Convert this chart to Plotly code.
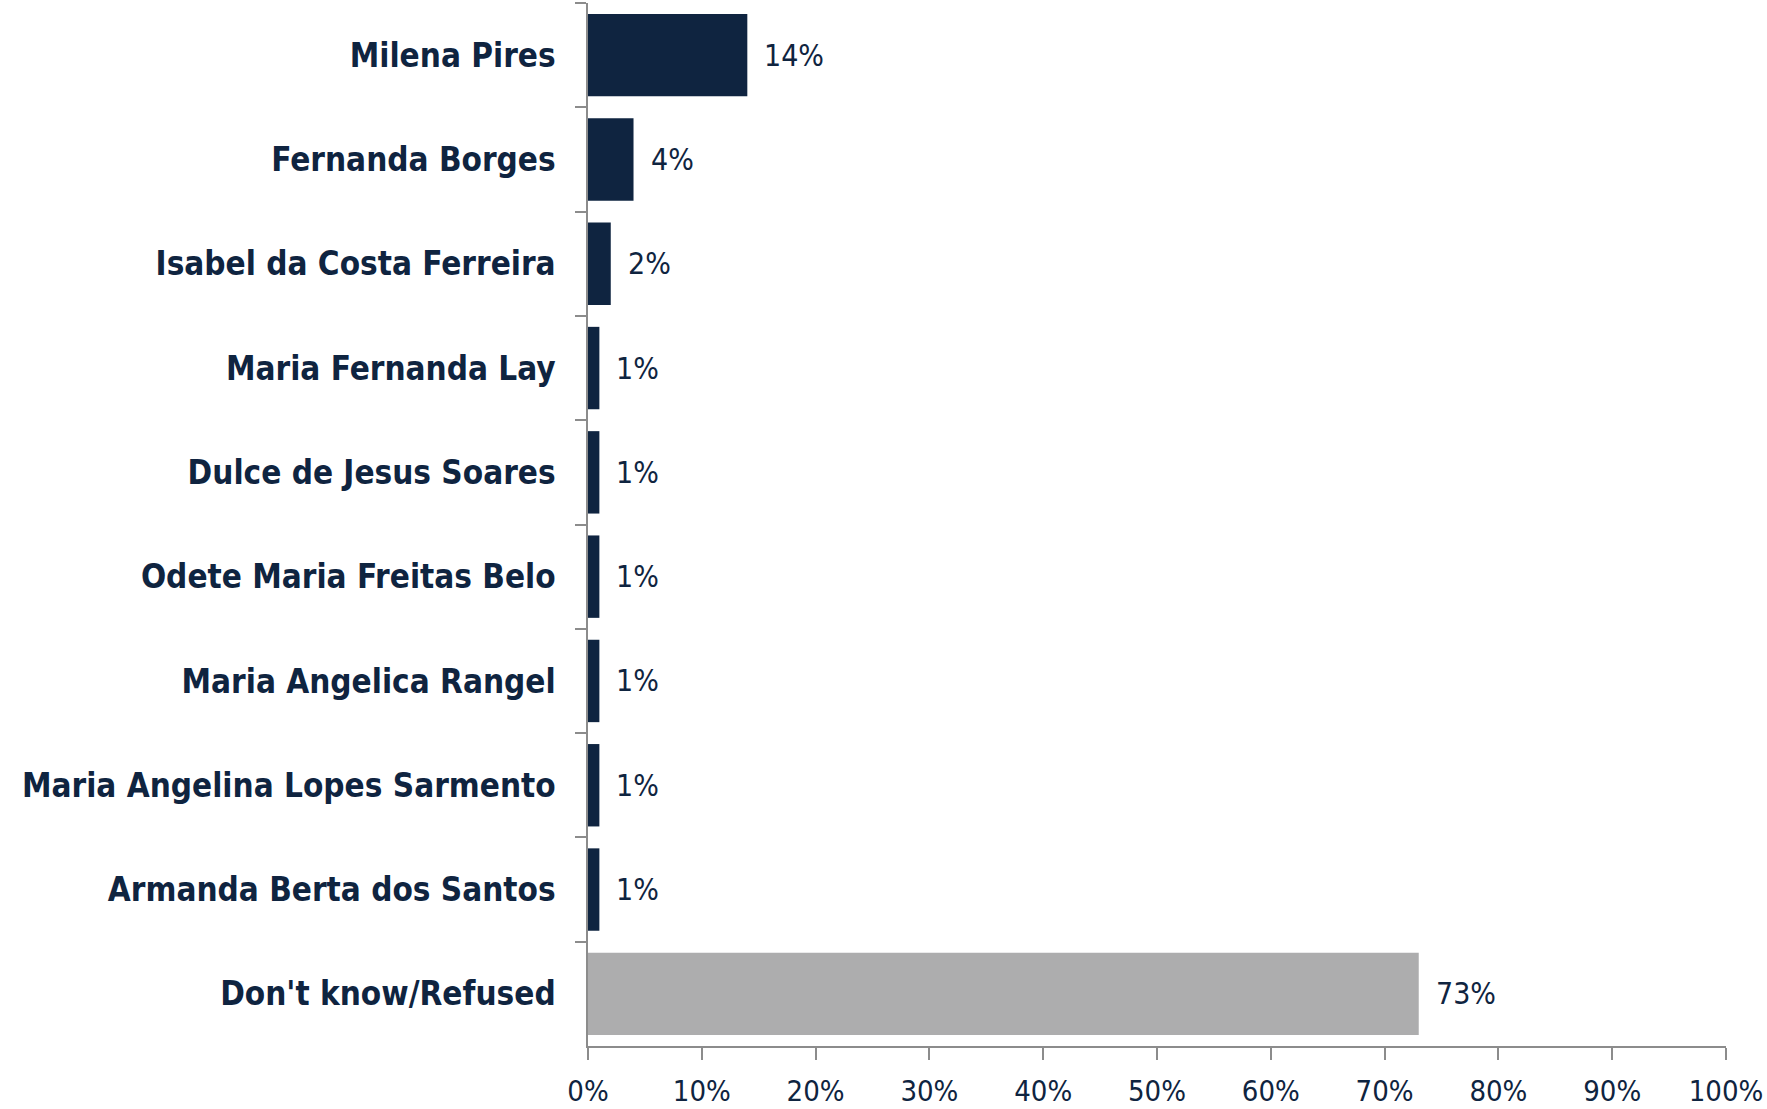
import plotly.graph_objects as go

categories = ["Milena Pires", "Fernanda Borges", "Isabel da Costa Ferreira",
              "Maria Fernanda Lay", "Dulce de Jesus Soares", "Odete Maria Freitas Belo",
              "Maria Angelica Rangel", "Maria Angelina Lopes Sarmento",
              "Armanda Berta dos Santos", "Don't know/Refused"]
values = [14, 4, 2, 1, 1, 1, 1, 1, 1, 73]
value_labels = ["14%", "4%", "2%", "1%", "1%", "1%", "1%", "1%", "1%", "73%"]
x_ticks = [0, 10, 20, 30, 40, 50, 60, 70, 80, 90, 100]
x_tick_labels = ["0%", "10%", "20%", "30%", "40%", "50%", "60%", "70%", "80%", "90%", "100%"]

NAVY = "#0F2440"
GRAY = "#ADADAE"
AXIS = "#8C8C8C"
FONT = "DejaVu Sans Condensed, DejaVu Sans, sans-serif"

colors = [GRAY if c == "Don't know/Refused" else NAVY for c in categories]

fig = go.Figure(go.Bar(
    x=values, y=categories, orientation="h",
    marker=dict(color=colors, line=dict(width=0)),
    cliponaxis=False,
    hoverinfo="skip",
))

for cat, val, lab in zip(categories, values, value_labels):
    fig.add_annotation(x=val, y=cat, text=lab, xref="x", yref="y",
                       xanchor="left", yanchor="middle", xshift=15, showarrow=False,
                       font=dict(family=FONT, size=30, color=NAVY))

fig.update_layout(
    width=1767, height=1109,
    margin=dict(l=588, r=41, t=3, b=63),
    paper_bgcolor="white", plot_bgcolor="white",
    bargap=0.21,
    showlegend=False,
    xaxis=dict(range=[0, 100], tickvals=x_ticks, ticktext=x_tick_labels,
               showgrid=False, zeroline=False, showline=True, linecolor=AXIS,
               linewidth=1.5, ticks="outside", ticklen=12, tickcolor=AXIS,
               tickwidth=1.5, automargin=False, ticklabelstandoff=6,
               tickfont=dict(family=FONT, size=29, color=NAVY)),
    yaxis=dict(autorange="reversed", showgrid=False, zeroline=False,
               showline=True, linecolor=AXIS, linewidth=1.5,
               ticks="outside", ticklen=11, tickcolor=AXIS, tickwidth=1.5,
               tickson="boundaries", ticklabelstandoff=24, automargin=False,
               tickfont=dict(family=FONT, size=33, color=NAVY, weight="bold")),
)

fig.write_html("out.html", config={"displayModeBar": False},
               post_script="document.body.style.margin='0';")
